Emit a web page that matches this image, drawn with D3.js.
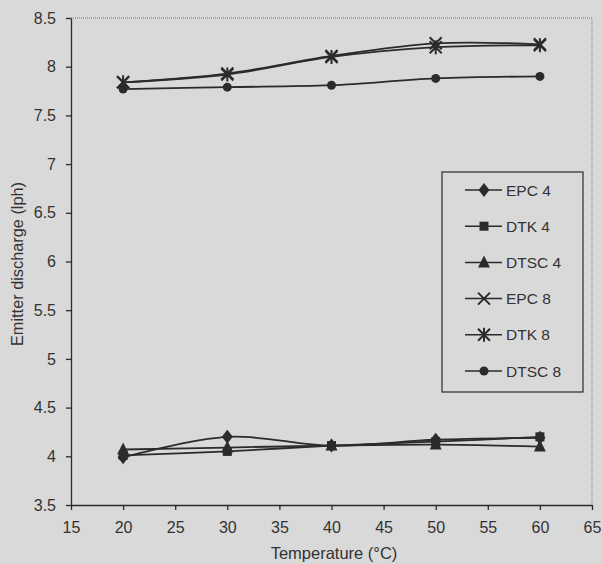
<!DOCTYPE html>
<html>
<head>
<meta charset="utf-8">
<script src="https://cdn.jsdelivr.net/npm/d3@7"></script>
<style>
  body { margin: 0; background: #d9d9d9; }
  svg { display: block; font-family: "Liberation Sans", Arial, sans-serif; }
</style>
</head>
<body>
<div class="chart"></div>
<script>
const w = 602;
const h = 564;
const m = {top: 18, right: 10, bottom: 59, left: 71};

// data
const temps = [20, 30, 40, 50, 60];
const epc4 = [3.99, 4.20, 4.11, 4.17, 4.19];
const dtk4 = [4.01, 4.05, 4.11, 4.15, 4.20];
const dtsc4 = [4.07, 4.09, 4.11, 4.12, 4.10];
const epc8 = [7.84, 7.93, 8.11, 8.24, 8.23];
const dtk8 = [7.84, 7.92, 8.10, 8.20, 8.22];
const dtsc8 = [7.77, 7.79, 7.81, 7.88, 7.90];
const names = ["EPC 4", "DTK 4", "DTSC 4", "EPC 8", "DTK 8", "DTSC 8"];
const markers = ["diamond", "square", "triangle", "x", "asterisk", "circle"];
const xTicks = [15, 20, 25, 30, 35, 40, 45, 50, 55, 60, 65];
const yTicks = [3.5, 4, 4.5, 5, 5.5, 6, 6.5, 7, 7.5, 8, 8.5];

const series = [epc4, dtk4, dtsc4, epc8, dtk8, dtsc8].map((vals, i) => ({
  name: names[i], marker: markers[i],
  pts: vals.map((v, j) => ({x: temps[j], y: v}))
}));

const ink = "#2b2b2b";

const svg = d3.select(".chart").append("svg")
  .attr("width", w).attr("height", h);

const x = d3.scaleLinear().domain([15, 65]).range([m.left, w - m.right]);
const y = d3.scaleLinear().domain([3.5, 8.5]).range([h - m.bottom, m.top]);

// plot frame, top and right are faint dotted
svg.append("path")
  .attr("d", `M${x(15)},${y(8.5)}H${x(65)}V${y(3.5)}`)
  .attr("fill", "none").attr("stroke", "#777")
  .attr("stroke-dasharray", "1,1");

// axes
const xAxis = svg.append("g")
  .attr("transform", `translate(0,${y(3.5)})`)
  .call(d3.axisBottom(x).tickValues(xTicks).tickSize(5).tickPadding(12).tickSizeOuter(0));
const yAxis = svg.append("g")
  .attr("transform", `translate(${x(15)},0)`)
  .call(d3.axisLeft(y).tickValues(yTicks).tickSize(5).tickPadding(10).tickSizeOuter(0)
    .tickFormat(d3.format("")));
[xAxis, yAxis].forEach(g => {
  g.attr("font-size", null).attr("font-family", null);
  g.selectAll("path, line").attr("stroke", ink).attr("stroke-width", 1.3);
  g.selectAll("text").attr("fill", "#333").style("font-size", "16px");
});

// axis titles
svg.append("text")
  .attr("x", 334).attr("y", 559)
  .attr("text-anchor", "middle").attr("fill", "#333")
  .style("font-size", "16.5px").text("Temperature (°C)");
svg.append("text")
  .attr("transform", `translate(23,264) rotate(-90)`)
  .attr("text-anchor", "middle").attr("fill", "#333")
  .attr("textLength", 164).attr("lengthAdjust", "spacingAndGlyphs")
  .style("font-size", "16.5px").text("Emitter discharge (lph)");

// marker drawing
function drawMarker(g, type, cx, cy) {
  if (type === "diamond") {
    g.append("path").attr("d", `M${cx},${cy - 7}L${cx + 5.5},${cy}L${cx},${cy + 7}L${cx - 5.5},${cy}Z`).attr("fill", ink);
  } else if (type === "square") {
    g.append("rect").attr("x", cx - 4.5).attr("y", cy - 4.5).attr("width", 9).attr("height", 9).attr("fill", ink);
  } else if (type === "triangle") {
    g.append("path").attr("d", `M${cx},${cy - 7}L${cx + 6},${cy + 5}L${cx - 6},${cy + 5}Z`).attr("fill", ink);
  } else if (type === "x") {
    g.append("path").attr("d", `M${cx - 6},${cy - 6}L${cx + 6},${cy + 6}M${cx + 6},${cy - 6}L${cx - 6},${cy + 6}`)
      .attr("stroke", ink).attr("stroke-width", 2);
  } else if (type === "asterisk") {
    g.append("path").attr("d", `M${cx - 6},${cy - 6}L${cx + 6},${cy + 6}M${cx + 6},${cy - 6}L${cx - 6},${cy + 6}M${cx},${cy - 7}V${cy + 7}`)
      .attr("stroke", ink).attr("stroke-width", 2);
  } else {
    g.append("circle").attr("cx", cx).attr("cy", cy).attr("r", 4.5).attr("fill", ink);
  }
}

// lines (smoothed like the source)
const line = d3.line().x(d => x(d.x)).y(d => y(d.y)).curve(d3.curveCatmullRom.alpha(0.5));
const plot = svg.append("g");
series.forEach(s => {
  plot.append("path").datum(s.pts)
    .attr("d", line).attr("fill", "none")
    .attr("stroke", ink).attr("stroke-width", 1.8);
});
series.forEach(s => {
  const g = plot.append("g");
  s.pts.forEach(p => drawMarker(g, s.marker, x(p.x), y(p.y)));
});

// legend
const lg = svg.append("g");
lg.append("rect")
  .attr("x", 442).attr("y", 172).attr("width", 141).attr("height", 220)
  .attr("fill", "#d9d9d9").attr("stroke", ink).attr("stroke-width", 1.2);
series.forEach((s, i) => {
  const ly = 190 + i * 36.2;
  const row = lg.append("g");
  row.append("line").attr("x1", 465).attr("x2", 502).attr("y1", ly).attr("y2", ly)
    .attr("stroke", ink).attr("stroke-width", 1.5);
  drawMarker(row, s.marker, 484, ly);
  row.append("text").attr("x", 506).attr("y", ly + 5.5)
    .attr("fill", "#333").style("font-size", "15.5px").text(s.name);
});
</script>
</body>
</html>
